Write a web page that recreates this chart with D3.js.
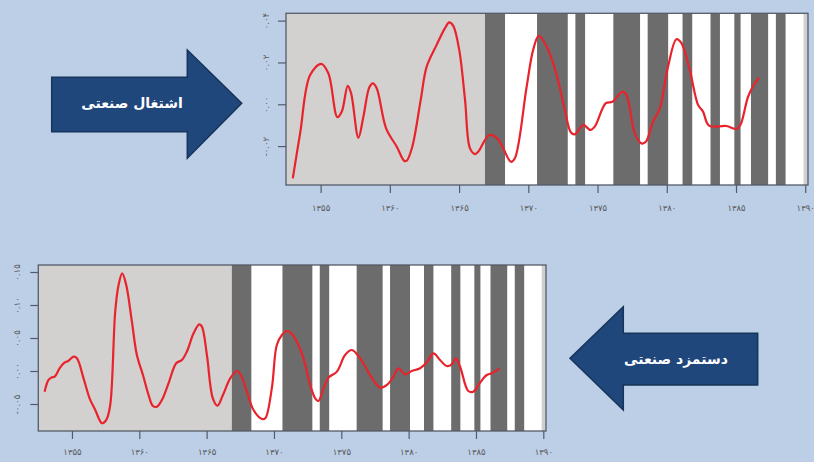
<!DOCTYPE html>
<html><head><meta charset="utf-8">
<script src="https://cdn.jsdelivr.net/npm/d3@7"></script>
<style>
html,body{margin:0;padding:0;background:#bccfe7;}
svg{display:block;}
</style></head>
<body>
<svg id="c" width="814" height="462"></svg>
<script>
// ---- data ----
const xTickYears = [1355,1360,1365,1370,1375,1380,1385,1390];
const xTickLabels = ["۱۳۵۵","۱۳۶۰","۱۳۶۵","۱۳۷۰","۱۳۷۵","۱۳۸۰","۱۳۸۵","۱۳۹۰"];

const grayEnd = 1366.87;
const tailStart = 1389.88;
const darkStarts = [1366.87,1370.63,1373.40,1376.14,1378.62,1381.14,1383.16,1384.88,1386.08,1387.88];
const darkEnds   = [1368.32,1372.85,1374.10,1378.07,1380.10,1381.84,1383.84,1385.33,1387.32,1388.58];

// industrial employment (top)
const empYears = [1352.99,1353.52,1354.24,1355.04,1355.56,1356.21,1356.53,1356.96,1357.20,1357.73,1358.09,1358.52,1358.77,1359.05,1359.73,1360.50,1361.05,1361.22,1361.62,1362.23,1362.66,1363.38,1363.98,1364.29,1364.58,1365.01,1365.43,1365.79,1366.15,1366.38,1366.87,1367.18,1367.76,1368.19,1368.74,1369.03,1369.88,1370.35,1370.76,1371.44,1372.04,1372.64,1373.07,1373.36,1373.96,1374.49,1374.80,1375.60,1376.08,1376.80,1377.09,1377.69,1378.17,1378.49,1379.01,1379.50,1380.09,1380.70,1381.06,1381.66,1382.26,1382.62,1383.05,1384.31,1385.03,1385.32,1385.87,1386.28,1386.66];
const empValues = [-0.0354,-0.0139,0.0140,0.0193,0.0148,-0.0062,-0.0035,0.0088,0.0053,-0.0160,-0.0059,0.0081,0.0100,0.0077,-0.0115,-0.0203,-0.0271,-0.0270,-0.0203,0.0021,0.0180,0.0284,0.0364,0.0392,0.0375,0.0260,0.0021,-0.0211,-0.0238,-0.0227,-0.0171,-0.0147,-0.0163,-0.0211,-0.0275,-0.0258,0.0084,0.0260,0.0327,0.0260,0.0141,-0.0027,-0.0134,-0.0144,-0.0099,-0.0123,-0.0107,0.0005,0.0012,0.0060,0.0045,-0.0139,-0.0187,-0.0179,-0.0083,-0.0019,0.0180,0.0311,0.0292,0.0164,-0.0003,-0.0035,-0.0102,-0.0104,-0.0118,-0.0099,0.0036,0.0092,0.0127];
const empYTicks = [-0.02,0,0.02,0.04];
const empYLabels = ["-۰.۰۲","۰.۰۰","۰.۰۲","۰.۰۴"];

// industrial wage (bottom)
const wageYears = [1352.97,1353.26,1353.52,1353.71,1354.08,1354.38,1354.75,1355.12,1355.37,1355.86,1356.31,1356.73,1357.23,1357.55,1357.84,1358.21,1358.46,1358.73,1359.03,1359.45,1359.82,1360.27,1360.69,1361.01,1361.31,1361.68,1362.17,1362.74,1363.16,1363.53,1364.03,1364.45,1364.65,1365.02,1365.46,1365.81,1366.21,1366.75,1367.25,1367.54,1367.99,1368.48,1369.10,1369.35,1369.84,1370.21,1370.59,1370.96,1371.33,1372.07,1372.69,1373.06,1373.30,1373.68,1374.05,1374.67,1375.28,1375.78,1376.40,1377.14,1377.88,1378.38,1378.87,1379.24,1379.74,1380.23,1380.85,1381.35,1381.84,1382.33,1382.83,1383.20,1383.50,1383.82,1384.43,1384.80,1385.30,1385.80,1386.17,1386.74];
const wageValues = [-0.0313,-0.0136,-0.0095,-0.0086,0.0041,0.0117,0.0156,0.0217,0.0192,-0.0111,-0.0414,-0.0591,-0.0792,-0.0742,-0.0515,0.0898,0.1303,0.1480,0.1303,0.0747,0.0242,-0.0061,-0.0364,-0.0530,-0.0541,-0.0439,-0.0186,0.0117,0.0167,0.0293,0.0571,0.0707,0.0672,0.0242,-0.0414,-0.0525,-0.0364,-0.0111,0.0000,-0.0061,-0.0313,-0.0591,-0.0727,-0.0717,-0.0263,0.0394,0.0545,0.0606,0.0561,0.0268,-0.0212,-0.0414,-0.0455,-0.0263,-0.0101,-0.0010,0.0242,0.0318,0.0192,-0.0061,-0.0253,-0.0212,-0.0086,0.0041,-0.0050,0.0000,0.0041,0.0132,0.0268,0.0167,0.0076,0.0101,0.0192,0.0065,-0.0303,-0.0313,-0.0177,-0.0061,-0.0035,0.0041];
const wageYTicks = [-0.05,0,0.05,0.10,0.15];
const wageYLabels = ["-۰.۰۵","۰.۰۰","۰.۰۵","۰.۱۰","۰.۱۵"];

const labelTop = "اشتغال صنعتی";
const labelBottom = "دستمزد صنعتی";

// ---- drawing ----
const svg = d3.select("#c");
const xDomain = [1352.5, 1390.2];

function panel(o){
  const g = svg.append("g");
  const x = d3.scaleLinear().domain(xDomain).range([o.left, o.right]);
  const y = d3.scaleLinear().domain(o.yDomain).range([o.bottom, o.top]);
  const h = o.bottom - o.top;
  g.append("rect").attr("x",o.left).attr("y",o.top).attr("width",o.right-o.left).attr("height",h).attr("fill","#ffffff");
  g.append("rect").attr("x",x(xDomain[0])).attr("y",o.top).attr("width",x(grayEnd)-x(xDomain[0])).attr("height",h).attr("fill","#d3d1cf");
  g.append("rect").attr("x",x(tailStart)).attr("y",o.top).attr("width",x(xDomain[1])-x(tailStart)).attr("height",h).attr("fill","#cfcfcf");
  const bands = darkStarts.map((s,i)=>({s, e: darkEnds[i]}));
  g.selectAll("rect.band").data(bands).enter().append("rect").attr("class","band")
    .attr("x",d=>x(d.s)).attr("y",o.top).attr("width",d=>x(d.e)-x(d.s)).attr("height",h).attr("fill","#6c6c6c");
  const pts = o.years.map((yr,i)=>[yr,o.values[i]]);
  g.append("path").datum(pts).attr("fill","none").attr("stroke","#e8232b").attr("stroke-width",2.2)
    .attr("stroke-linejoin","round")
    .attr("d", d3.line().x(d=>x(d[0])).y(d=>y(d[1])).curve(d3.curveCatmullRom.alpha(0.5)));
  g.append("rect").attr("x",o.left).attr("y",o.top).attr("width",o.right-o.left).attr("height",h)
    .attr("fill","none").attr("stroke","#545b68").attr("stroke-width",1.3);
  // x axis
  const xa = d3.axisBottom(x).tickValues(xTickYears).tickSize(8).tickSizeOuter(0)
    .tickFormat((d,i)=>xTickLabels[i]);
  const gx = g.append("g").attr("transform",`translate(0,${o.bottom})`).call(xa);
  gx.select(".domain").remove();
  gx.selectAll(".tick line").attr("stroke","#545b68").attr("stroke-width",1.2);
  gx.selectAll(".tick text").attr("dy",null).attr("y",o.xLabelDy).attr("fill","#5a5a5a")
    .attr("font-family","DejaVu Sans").attr("font-size",8.5);
  // y axis
  const ya = d3.axisLeft(y).tickValues(o.yTicks).tickSize(8).tickSizeOuter(0)
    .tickFormat((d,i)=>o.yLabels[i]);
  const gy = g.append("g").attr("transform",`translate(${o.left},0)`).call(ya);
  gy.select(".domain").remove();
  gy.selectAll(".tick line").attr("stroke","#545b68").attr("stroke-width",1.2);
  gy.selectAll(".tick text").attr("x",null).attr("dy",null).attr("text-anchor","middle")
    .attr("transform",`translate(${-o.yLabelDx},0) rotate(-90)`).attr("y",0).attr("dy","0.35em")
    .attr("fill","#5a5a5a").attr("font-family","DejaVu Sans").attr("font-size",8.5);
}

panel({left:286,right:808,top:13.3,bottom:185,yDomain:[-0.0386,0.0435],
  years:empYears,values:empValues,yTicks:empYTicks,yLabels:empYLabels,xLabelDy:26,yLabelDx:20});
panel({left:38.3,right:546,top:265,bottom:431,yDomain:[-0.0909,0.1606],
  years:wageYears,values:wageValues,yTicks:wageYTicks,yLabels:wageYLabels,xLabelDy:24,yLabelDx:21});

// arrows
function arrow(pts, tx, ty, txt){
  svg.append("polygon").attr("points",pts.map(p=>p.join(",")).join(" "))
    .attr("fill","#1f477b").attr("stroke","#17345a").attr("stroke-width",1.5);
  svg.append("text").attr("x",tx).attr("y",ty).attr("text-anchor","middle").attr("dy","0.35em")
    .attr("fill","#ffffff").attr("font-family","DejaVu Sans").attr("font-weight","bold")
    .attr("font-size",14).attr("direction","rtl").text(txt);
}
arrow([[51.7,77.3],[187.3,77.3],[187.3,50],[241.7,103.3],[187.3,158.3],[187.3,131.7],[51.7,131.7]],
  132, 103, labelTop);
arrow([[757.7,333.3],[623.3,333.3],[623.3,306.7],[570,358.3],[623.3,410],[623.3,385],[757.7,385]],
  676, 359, labelBottom);
</script>
</body></html>
